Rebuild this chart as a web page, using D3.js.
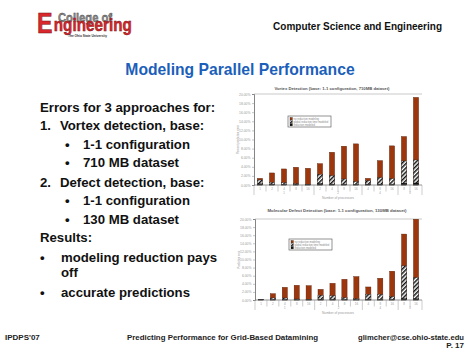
<!DOCTYPE html>
<html><head><meta charset="utf-8">
<script src="https://cdn.jsdelivr.net/npm/d3@7"></script>
<style>html,body{margin:0;padding:0;background:#fff;overflow:hidden}</style>
</head><body>
<svg id="slide" width="474" height="355"></svg>
<script>
// ---- chart data ----
const categories = ["1","2","4","8","16","2","4","8","16","4","8","16","8","16"];
const groups = ["1","1","1","1","1","2","2","2","2","4","4","4","8","8"];
const yTicks = [0,2,4,6,8,10,12,14,16,18,20];
const legendLabels = ["no reduction modeling","global reduction time modeled","reduction modeled"];

const vortexNoReduction = [1.47,2.65,3.53,3.90,3.68,4.70,7.20,8.53,9.04,1.47,5.37,8.60,10.66,19.26];
const vortexGlobal      = [1.10,0.59,0.51,0.29,0.07,2.35,2.06,1.32,0.74,0.96,1.62,1.40,5.29,5.51];
const vortexModeled     = [0.25,0.15,0.12,0.10,0.08,0.30,0.20,0.15,0.10,0.20,0.15,0.12,0.40,0.45];

const defectNoReduction = [0.15,1.57,3.14,3.64,3.55,2.64,4.13,5.12,5.79,3.22,5.37,7.11,16.28,19.95];
const defectGlobal      = [0.05,0.50,0.50,0.25,0.08,1.16,1.07,0.58,0.33,1.40,1.40,0.83,8.43,5.54];
const defectModeled     = [0.17,0.10,0.10,0.08,0.06,0.15,0.12,0.10,0.08,0.15,0.12,0.10,0.30,0.30];

const slideLines = [
  "Errors for 3 approaches for:",
  "Vortex detection, base:",
  "1-1 configuration",
  "710 MB dataset",
  "Defect detection, base:",
  "1-1 configuration",
  "130 MB dataset",
  "Results:",
  "modeling reduction pays",
  "off",
  "accurate predictions"
];

const FONT = "'Liberation Sans', Arial, Helvetica, sans-serif";
const svg = d3.select("#slide");
svg.append("rect").attr("width",474).attr("height",355).attr("fill","#fff");

const defs = svg.append("defs");
const pat = defs.append("pattern").attr("id","hatch").attr("patternUnits","userSpaceOnUse")
  .attr("width",3).attr("height",3).attr("patternTransform","rotate(45)");
pat.append("rect").attr("width",3).attr("height",3).attr("fill","#fff");
pat.append("rect").attr("width",1.5).attr("height",3).attr("fill","#111");

// ---- header (logo as a single text element) ----
const logo = svg.append("text").attr("font-family",FONT).attr("font-weight","bold");
logo.append("tspan").attr("x",58).attr("y",21.5).attr("font-size",13).attr("textLength",54)
  .attr("lengthAdjust","spacingAndGlyphs").attr("fill","#8c8c8c").attr("stroke","#444").attr("stroke-width",0.4).text("College of");
logo.append("tspan").attr("x",37).attr("y",33).attr("font-size",30).attr("textLength",15.5)
  .attr("lengthAdjust","spacingAndGlyphs").attr("fill","#d9272e").attr("stroke","#7a1414").attr("stroke-width",0.6).text("E");
logo.append("tspan").attr("x",53.8).attr("y",31).attr("font-size",18).attr("textLength",78)
  .attr("lengthAdjust","spacingAndGlyphs").attr("fill","#d9272e").attr("stroke","#7a1414").attr("stroke-width",0.5).text("ngineering");
logo.append("tspan").attr("x",68).attr("y",37).attr("font-size",3.6).attr("textLength",39)
  .attr("lengthAdjust","spacingAndGlyphs").attr("fill","#333").attr("stroke","none").text("The Ohio State University");

svg.append("text").attr("x",442).attr("y",29.5).attr("text-anchor","end").attr("font-family",FONT)
  .attr("font-weight","bold").attr("font-size",10).attr("fill","#111").text("Computer Science and Engineering");

svg.append("text").attr("x",240).attr("y",74.5).attr("text-anchor","middle").attr("font-family",FONT)
  .attr("font-weight","bold").attr("font-size",15.7).attr("fill","#1c5fba").text("Modeling Parallel Performance");

// ---- left text ----
const lineY = [111.7,130,148.5,167,186.5,205,223.5,242,261.5,276.5,296.5];
const lineX = [40,60,83,83,60,83,83,40,61,61,61];
const markers = [null,{t:"1.",x:40},{t:"•",x:65},{t:"•",x:65},{t:"2.",x:40},{t:"•",x:65},{t:"•",x:65},null,{t:"•",x:40},null,{t:"•",x:40}];
const tg = svg.append("g").attr("font-family",FONT).attr("font-weight","bold").attr("font-size",13.2).attr("fill","#111");
slideLines.forEach((s,i)=>{
  tg.append("text").attr("x",lineX[i]).attr("y",lineY[i]).text(s);
  if (markers[i]) tg.append("text").attr("x",markers[i].x).attr("y",lineY[i]).text(markers[i].t);
});

// ---- footer ----
const fg = svg.append("g").attr("font-family",FONT).attr("font-weight","bold").attr("font-size",8).attr("fill","#222");
fg.append("text").attr("x",5).attr("y",339.5).text("IPDPS'07");
fg.append("text").attr("x",127).attr("y",339.5).attr("textLength",191).attr("lengthAdjust","spacingAndGlyphs").text("Predicting Performance for Grid-Based Datamining");
fg.append("text").attr("x",464).attr("y",339.5).attr("text-anchor","end").attr("textLength",106).attr("lengthAdjust","spacingAndGlyphs").text("glimcher@cse.ohio-state.edu");
fg.append("text").attr("x",464).attr("y",347.5).attr("text-anchor","end").text("P. 17");

// ---- charts ----
function drawChart(o) {
  const g = svg.append("g").attr("font-family",FONT);
  const n = categories.length;
  const x = d3.scaleBand().domain(d3.range(n)).range([o.left,o.right]).paddingInner(0.56).paddingOuter(0.28);
  const y = d3.scaleLinear().domain([0,20]).range([o.bottom,o.top]);
  const step = x.step();

  g.append("text").attr("x",o.titleX).attr("y",o.titleY).attr("text-anchor","middle").attr("font-size",4)
    .attr("font-weight","bold").attr("fill","#555").attr("textLength",o.titleLen).attr("lengthAdjust","spacingAndGlyphs").text(o.title);

  g.append("line").attr("x1",o.left).attr("x2",o.right).attr("y1",o.top).attr("y2",o.top).attr("stroke","#bbb").attr("stroke-width",0.8);

  const ax = g.append("g").attr("transform",`translate(${o.left},0)`)
    .call(d3.axisLeft(y).tickValues(yTicks).tickSize(2).tickPadding(1.5).tickFormat(d=>d.toFixed(2)+"%"));
  ax.selectAll("text").attr("font-size",3.4).attr("fill","#999").attr("font-family",FONT);
  ax.selectAll("line").attr("stroke","#888").attr("stroke-width",0.5);
  ax.select(".domain").attr("stroke","#777").attr("stroke-width",0.9);

  g.append("text").attr("transform",`translate(${o.yTitleX},${(o.top+o.bottom)/2}) rotate(-90)`)
    .attr("text-anchor","middle").attr("font-size",3.4).attr("fill","#999").attr("textLength",o.yTitleLen)
    .attr("lengthAdjust","spacingAndGlyphs").text(o.yTitle);

  // bars
  const styles = [
    {fill:"#9c360c", stroke:"#4f1a05"},
    {fill:"url(#hatch)", stroke:"#222"},
    {fill:"#111", stroke:"#111"}
  ];
  o.series.forEach((vals,si)=>{
    g.append("g").selectAll("rect").data(vals).join("rect")
      .attr("x",(d,i)=>x(i)).attr("y",d=>y(d)).attr("width",x.bandwidth())
      .attr("height",d=>y(0)-y(d)).attr("fill",styles[si].fill)
      .attr("stroke",styles[si].stroke).attr("stroke-width",0.35);
  });

  // category axis
  g.append("line").attr("x1",o.left).attr("x2",o.right).attr("y1",o.bottom).attr("y2",o.bottom).attr("stroke","#777").attr("stroke-width",0.8);
  d3.range(n+1).forEach(i=>{
    const isGroup = i===0 || i===n || groups[i]!==groups[i-1];
    g.append("line").attr("x1",o.left+i*step).attr("x2",o.left+i*step)
      .attr("y1",o.bottom).attr("y2",o.bottom+(isGroup?10:6.5)).attr("stroke","#999").attr("stroke-width",0.5);
  });
  g.append("g").selectAll("text").data(categories).join("text")
    .attr("x",(d,i)=>x(i)+x.bandwidth()/2).attr("y",o.bottom+4.5).attr("text-anchor","middle")
    .attr("font-size",3).attr("fill","#999").text(d=>d);
  const uniqueGroups = Array.from(new Set(groups));
  uniqueGroups.forEach(gr=>{
    const idx = groups.map((d,i)=>d===gr?i:-1).filter(i=>i>=0);
    const cx = (x(idx[0]) + x(idx[idx.length-1]) + x.bandwidth())/2;
    g.append("text").attr("x",cx).attr("y",o.bottom+8.6).attr("text-anchor","middle").attr("font-size",2.8)
      .attr("fill","#999").text(gr);
  });
  g.append("text").attr("x",o.xTitleX).attr("y",o.xTitleY).attr("text-anchor","middle").attr("font-size",3.2)
    .attr("fill","#999").attr("textLength",32).attr("lengthAdjust","spacingAndGlyphs").text("Number of processors");

  // legend
  const lg = g.append("g").attr("transform",`translate(${o.legendX},${o.legendY})`);
  lg.append("rect").attr("width",43).attr("height",11).attr("fill","#fff").attr("stroke","#666").attr("stroke-width",0.7);
  legendLabels.forEach((l,i)=>{
    lg.append("rect").attr("x",2).attr("y",1.5+i*3).attr("width",2.4).attr("height",2.4)
      .attr("fill",styles[i].fill).attr("stroke","#111").attr("stroke-width",0.3);
    lg.append("text").attr("x",5.5).attr("y",3.6+i*3).attr("font-size",2.6).attr("fill","#888").text(l);
  });
}

drawChart({left:254,right:422,top:94,bottom:185,title:"Vortex Detection (base: 1-1 configuration, 710MB dataset)",
  titleX:332,titleY:89.5,titleLen:115,yTitle:"Percent prediction error",yTitleX:239,yTitleLen:29,
  xTitleX:338,xTitleY:198.5,legendX:288,legendY:116,
  series:[vortexNoReduction,vortexGlobal,vortexModeled]});

drawChart({left:255,right:422,top:219,bottom:300,title:"Molecular Defect Detection (base: 1-1 configuration, 130MB dataset)",
  titleX:337,titleY:211.5,titleLen:139,yTitle:"Prediction error",yTitleX:240,yTitleLen:18,
  xTitleX:338,xTitleY:313.5,legendX:289,legendY:239,
  series:[defectNoReduction,defectGlobal,defectModeled]});
</script>
</body></html>
